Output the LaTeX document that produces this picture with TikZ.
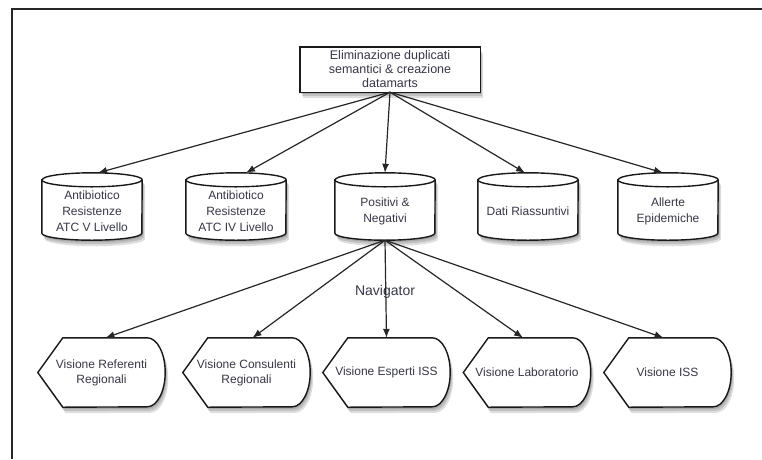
\documentclass[tikz,border=0pt]{standalone}
\usepackage{fontspec}
\setmainfont{Liberation Sans}
\usetikzlibrary{arrows.meta}
\definecolor{txt}{RGB}{55,55,72}
\pgfdeclarelayer{background}
\pgfsetlayers{background,main}
\newcommand\dbshape[2][]{%
  \path[#1] ([yshift=-7pt]#2.north west) -- ([yshift=7pt]#2.south west)
    arc[start angle=180,end angle=360,x radius=50pt,y radius=7pt]
    -- ([yshift=-7pt]#2.north east)
    arc[start angle=0,end angle=180,x radius=50pt,y radius=7pt] -- cycle;}
\newcommand\dbrim[2][]{%
  \path[#1] ([yshift=-7pt]#2.north west)
    arc[start angle=180,end angle=360,x radius=50pt,y radius=7pt];}
\newcommand\viewshape[2][]{%
  \path[#1] (#2.west) -- ([xshift=25pt]#2.north west) -- ([xshift=-18pt]#2.north east)
    arc[start angle=90,end angle=-90,x radius=18pt,y radius=34.5pt]
    -- ([xshift=25pt]#2.south west) -- cycle;}
\newcommand\boxshape[2][]{%
  \path[#1] (#2.north west) rectangle (#2.south east);}
\begin{document}
\begin{tikzpicture}[x=1pt,y=-1pt,
  topbox/.style={minimum width=180pt, minimum height=45pt, align=center, inner sep=0pt,
    font=\fontsize{12.5}{14}\selectfont, text=txt},
  dbnode/.style={minimum width=100pt, minimum height=67pt, inner sep=0pt},
  dbtext/.style={align=center, inner sep=0pt, font=\fontsize{12}{16}\selectfont, text=txt},
  viewnode/.style={minimum width=127pt, minimum height=69pt, align=center, inner sep=0pt,
    font=\fontsize{12}{15}\selectfont, text=txt},
  navtext/.style={font=\fontsize{14}{16}\selectfont, text=txt, inner sep=1pt},
  conn/.style={draw=black!85, line width=1.2pt, -{Latex[length=9pt,width=7pt]}},
  outline/.style={draw=black!90, line width=1.4pt, fill=white},
  shade/.style={fill=black, opacity=0.13},
  frame/.style={draw=black!85, line width=2pt}]
\useasboundingbox (0,0) rectangle (762,459);
\draw[frame] (762,9) -- (12,9) -- (12,459);

% top box
\node[topbox] (top) at (390,69.5) {Eliminazione duplicati\\semantici \& creazione\\datamarts};

% cylinders
\node[dbnode, label={[dbtext, yshift=-4.5pt]center:Antibiotico\\Resistenze\\ATC V Livello}] (c1) at (92,206.5) {};
\node[dbnode, label={[dbtext, yshift=-4.5pt]center:Antibiotico\\Resistenze\\ATC IV Livello}] (c2) at (236,206.5) {};
\node[dbnode, label={[dbtext, yshift=-4.5pt]center:Positivi \&\\Negativi}] (c3) at (385,206.5) {};
\node[dbnode, label={[dbtext, yshift=-4.5pt]center:Dati Riassuntivi}] (c4) at (528,206.5) {};
\node[dbnode, label={[dbtext, yshift=-4.5pt]center:Allerte\\Epidemiche}] (c5) at (668,206.5) {};

% views
\node[viewnode] (v1) at (101.5,372.5) {Visione Referenti\\Regionali};
\node[viewnode] (v2) at (246.5,372.5) {Visione Consulenti\\Regionali};
\node[viewnode] (v3) at (386.5,372.5) {Visione Esperti ISS};
\node[viewnode] (v4) at (527,372.5) {Visione Laboratorio};
\node[viewnode] (v5) at (667.5,372.5) {Visione ISS};

\node[navtext] (nav) at (385,292) {Navigator};

\begin{pgfonlayer}{background}
  \foreach \s in {2,4,6} {
    \boxshape[shade, transform canvas={xshift=\s*0.5pt, yshift=-\s*1pt}]{top}
    \foreach \c in {c1,c2,c3,c4,c5} {\dbshape[shade, transform canvas={xshift=\s*0.5pt, yshift=-\s*1pt}]{\c}}
    \foreach \v in {v1,v2,v3,v4,v5} {\viewshape[shade, transform canvas={xshift=\s*0.5pt, yshift=-\s*1pt}]{\v}}
  }
  \boxshape[outline]{top}
  \foreach \c in {c1,c2,c3,c4,c5} {\dbshape[outline]{\c}\dbrim[draw=black!90, line width=1.4pt]{\c}}
  \foreach \v in {v1,v2,v3,v4,v5} {\viewshape[outline]{\v}}
\end{pgfonlayer}

% connectors
\foreach \c/\dx in {c1/6,c2/10,c3/0,c4/-3,c5/-5} {\draw[conn] (top.south) -- ([xshift=\dx pt]\c.north);}
\foreach \v/\dx in {v1/4,v2/6,v3/0,v4/-4,v5/-4} {\draw[conn] (c3.south) -- ([xshift=\dx pt]\v.north);}
\end{tikzpicture}
\end{document}
